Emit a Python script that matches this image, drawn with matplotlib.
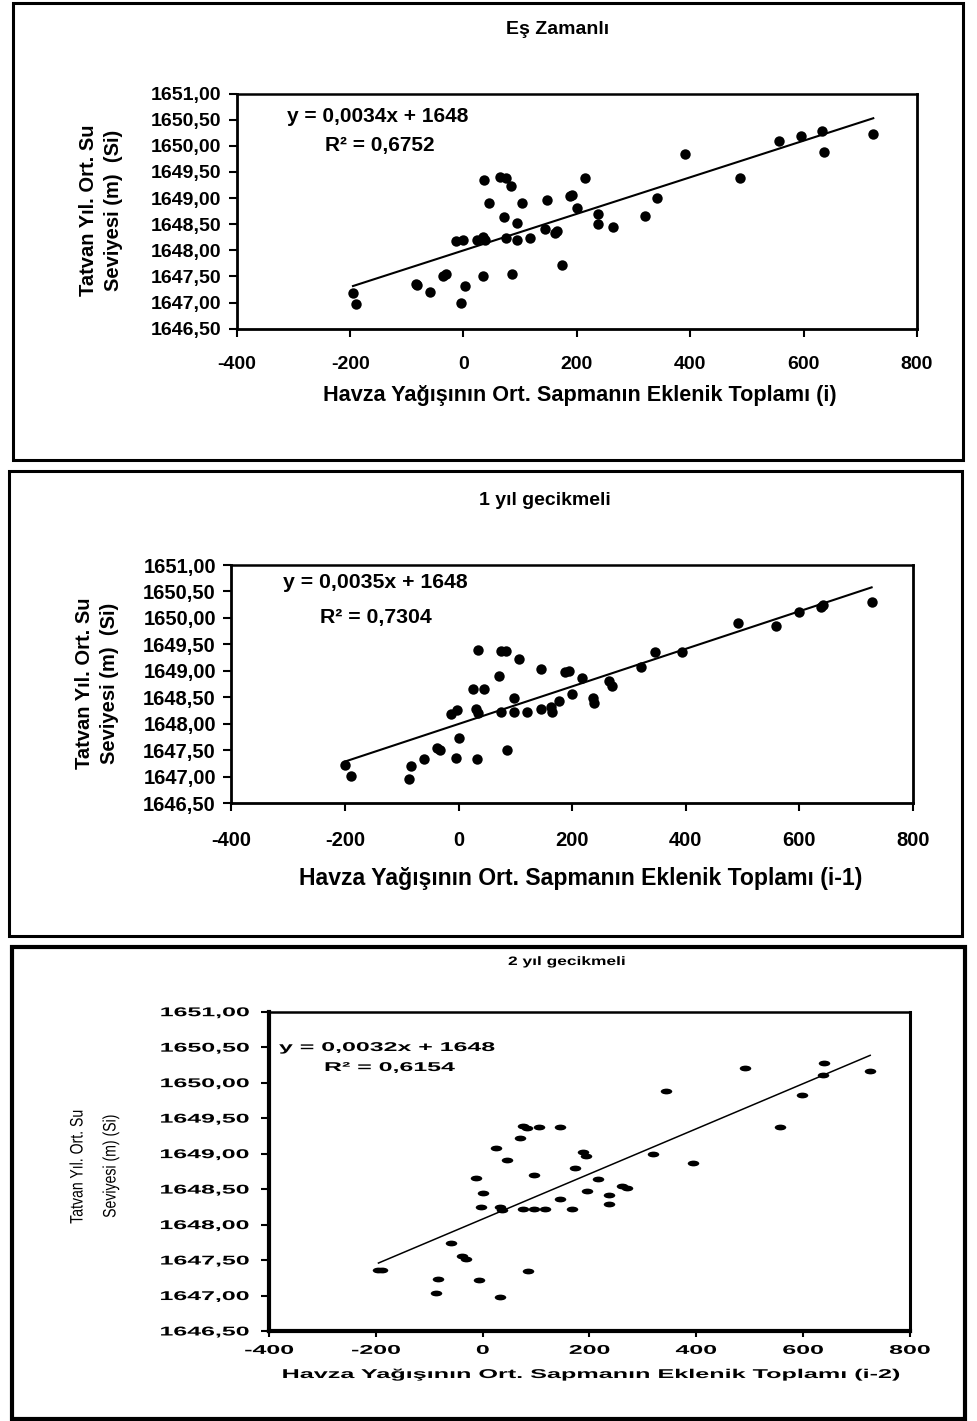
import numpy as np
import matplotlib
matplotlib.use('Agg')
import matplotlib.pyplot as plt
from matplotlib.patches import Rectangle
from matplotlib.path import Path
from matplotlib.transforms import Affine2D
from matplotlib.patheffects import AbstractPathEffect

W, H = 978, 1421
FONT = 'Liberation Sans'

# ---------------- data ----------------
titles = ['Eş Zamanlı', '1 yıl gecikmeli', '2 yıl gecikmeli']
eq_texts = ['y = 0,0034x + 1648', 'y = 0,0035x + 1648', 'y = 0,0032x + 1648']
r2_texts = ['R² = 0,6752', 'R² = 0,7304', 'R² = 0,6154']
x_labels = ['Havza Yağışının Ort. Sapmanın Eklenik Toplamı (i)',
            'Havza Yağışının Ort. Sapmanın Eklenik Toplamı (i-1)',
            'Havza Yağışının Ort. Sapmanın Eklenik Toplamı (i-2)']
y_label_line1 = 'Tatvan Yıl. Ort. Su'
y_label_line2 = 'Seviyesi (m)  (Si)'
y_label_line2_p3 = 'Seviyesi (m) (Si)'

x_ticks = [-400, -200, 0, 200, 400, 600, 800]
x_tick_labels = ['-400', '-200', '0', '200', '400', '600', '800']
y_ticks = [1646.5, 1647.0, 1647.5, 1648.0, 1648.5, 1649.0, 1649.5, 1650.0, 1650.5, 1651.0]
y_tick_labels = ['1646,50', '1647,00', '1647,50', '1648,00', '1648,50',
                 '1649,00', '1649,50', '1650,00', '1650,50', '1651,00']

x_es = [-195, -190, -84, -82, -59, -36, -31, -4, 3, -14, -1, 24, 35, 38, 36, 45, 34,
        64, 75, 84, 72, 75, 94, 103, 94, 86, 117, 147, 144, 162, 165, 173, 188, 191,
        200, 214, 238, 238, 263, 320, 342, 391, 488, 557, 595, 633, 636, 723]
y_es = [1647.18, 1646.97, 1647.36, 1647.34, 1647.21, 1647.51, 1647.54, 1647.00, 1647.32,
        1648.17, 1648.19, 1648.19, 1648.26, 1648.20, 1649.35, 1648.90, 1647.51, 1649.41,
        1649.38, 1649.23, 1648.63, 1648.24, 1648.53, 1648.90, 1648.19, 1647.54, 1648.24,
        1648.96, 1648.41, 1648.33, 1648.36, 1647.72, 1649.03, 1649.06, 1648.80, 1649.38,
        1648.69, 1648.50, 1648.45, 1648.66, 1649.01, 1649.84, 1649.38, 1650.10, 1650.19,
        1650.28, 1649.89, 1650.23]

x_lag1 = [-200, -190, -87, -84, -60, -37, -33, -14, -2, -5, 0, 25, 45, 31, 35, 32, 35,
          72, 75, 83, 75, 85, 97, 97, 107, 120, 146, 146, 163, 164, 176, 187, 195, 199,
          217, 237, 239, 264, 270, 321, 345, 394, 492, 559, 600, 638, 642, 727]
y_lag1 = [1647.22, 1647.02, 1646.95, 1647.20, 1647.33, 1647.54, 1647.51, 1648.18, 1648.26,
          1647.36, 1647.74, 1648.66, 1648.66, 1648.28, 1648.20, 1647.33, 1649.40, 1648.91,
          1649.38, 1649.38, 1648.23, 1647.51, 1648.48, 1648.23, 1649.22, 1648.23, 1649.03,
          1648.28, 1648.32, 1648.23, 1648.44, 1648.97, 1648.99, 1648.56, 1648.87, 1648.49,
          1648.40, 1648.81, 1648.72, 1649.08, 1649.36, 1649.36, 1649.90, 1649.84, 1650.12,
          1650.21, 1650.24, 1650.30]

x_lag2 = [-195, -189, -84, -87, -59, -39, -31, -7, -12, 1, -2, 25, 46, 33, 36, 33, 70,
          76, 83, 106, 76, 86, 96, 96, 117, 145, 145, 167, 173, 188, 194, 195, 217, 237,
          237, 261, 270, 319, 344, 394, 492, 558, 598, 640, 638, 726]
y_lag2 = [1647.36, 1647.36, 1647.23, 1647.03, 1647.74, 1647.55, 1647.51, 1647.22, 1648.66,
          1648.45, 1648.25, 1649.08, 1648.91, 1648.25, 1648.21, 1646.98, 1649.22, 1649.39,
          1649.36, 1649.37, 1648.22, 1647.35, 1648.70, 1648.22, 1648.22, 1649.37, 1648.36,
          1648.22, 1648.80, 1649.02, 1648.96, 1648.47, 1648.64, 1648.41, 1648.29, 1648.54,
          1648.52, 1649.00, 1649.88, 1648.87, 1650.20, 1649.37, 1649.82, 1650.27, 1650.11,
          1650.17]


# ------------- horizontal text stretch (3rd panel is a stretched picture) -------------
class Stretch(AbstractPathEffect):
    def __init__(self, sx=1.0, anchor='center'):
        super().__init__()
        self._sx = sx
        self._anchor = anchor

    def draw_path(self, renderer, gc, tpath, affine, rgbFace=None):
        v = tpath.vertices
        cx = 0.0
        if len(v):
            if self._anchor == 'left':
                cx = v[:, 0].min()
            elif self._anchor == 'right':
                cx = v[:, 0].max()
            else:
                cx = 0.5 * (v[:, 0].min() + v[:, 0].max())
        t = Affine2D().translate(-cx, 0).scale(self._sx, 1).translate(cx, 0)
        renderer.draw_path(gc, tpath, t + affine, rgbFace)


fig = plt.figure(figsize=(W / 100, H / 100), dpi=100)
fig.patch.set_facecolor('white')


def fx(px):
    return px / W


def fy(py):
    return 1 - py / H


def axes_at(x0, x1, y0, y1):
    return fig.add_axes([fx(x0), fy(y1), (x1 - x0) / W, (y1 - y0) / H])


def ftext(px, py, s, **kw):
    kw.setdefault('family', FONT)
    return fig.text(fx(px), fy(py), s, **kw)


# outer frames
for (x0, y0, x1, y1, lw) in [(13, 3, 963, 460, 2.2), (9, 471, 962, 936, 2.2),
                             (12, 947, 965, 1419, 3.0)]:
    fig.add_artist(Rectangle((fx(x0), fy(y1)), (x1 - x0) / W, (y1 - y0) / H,
                             transform=fig.transFigure, fill=False,
                             edgecolor='black', linewidth=lw))


def setup_axes(ax, xs, ys, spine_lw, tick_len_x, tick_len_y, padx, pady,
               tick_fs, weight, pe_x=None, pe_y=None, marker='o', ms=7.5, line_lw=1.5):
    ax.set_xlim(-400, 800)
    ax.set_ylim(1646.5, 1651.0)
    ax.set_xticks(x_ticks)
    ax.set_yticks(y_ticks)
    kx = dict(family=FONT, fontsize=tick_fs, fontweight=weight)
    ky = dict(family=FONT, fontsize=tick_fs, fontweight=weight)
    if pe_x:
        kx['path_effects'] = pe_x
    if pe_y:
        ky['path_effects'] = pe_y
    ax.set_xticklabels(x_tick_labels, **kx)
    ax.set_yticklabels(y_tick_labels, **ky)
    ax.tick_params(axis='x', direction='out', length=tick_len_x, width=1.5, pad=padx,
                   colors='black')
    ax.tick_params(axis='y', direction='out', length=tick_len_y, width=1.5, pad=pady,
                   colors='black')
    for s, lw in spine_lw.items():
        ax.spines[s].set_linewidth(lw)
        ax.spines[s].set_color('black')
    ax.plot(xs, ys, linestyle='none', marker=marker, ms=ms, color='black',
            markeredgewidth=0, zorder=3)
    coef = np.polyfit(xs, ys, 1)
    xl = np.array([min(xs), max(xs)])
    ax.plot(xl, np.polyval(coef, xl), color='black', lw=line_lw, zorder=2)


# ---------------- panel 1 ----------------
ax1 = axes_at(236.8, 916.9, 93.5, 328.7)
setup_axes(ax1, x_es, y_es, {'left': 2.0, 'bottom': 2.0, 'top': 1.8, 'right': 2.0},
           6, 6, 14, 5, 14, 'bold')
ftext(558, 30, titles[0], fontsize=14, fontweight='bold', ha='center', va='center')
ftext(287, 116, eq_texts[0], fontsize=15, fontweight='bold', ha='left', va='center')
ftext(325, 145, r2_texts[0], fontsize=15, fontweight='bold', ha='left', va='center')
ftext(580, 396, x_labels[0], fontsize=15.6, fontweight='bold', ha='center', va='center')
ftext(88, 210, y_label_line1, fontsize=14.5, fontweight='bold', rotation=90,
      ha='center', va='center')
ftext(114, 210, y_label_line2, fontsize=14.5, fontweight='bold', rotation=90,
      ha='center', va='center')

# ---------------- panel 2 ----------------
ax2 = axes_at(231.2, 913.1, 565, 803.3)
setup_axes(ax2, x_lag1, y_lag1, {'left': 2.0, 'bottom': 2.0, 'top': 1.8, 'right': 2.0},
           6, 6, 14, 5, 14.5, 'bold')
ftext(545, 500, titles[1], fontsize=14, fontweight='bold', ha='center', va='center')
ftext(283, 583, eq_texts[1], fontsize=15.3, fontweight='bold', ha='left', va='center')
ftext(320, 617, r2_texts[1], fontsize=15.3, fontweight='bold', ha='left', va='center')
ftext(581, 878, x_labels[1], fontsize=16.6, fontweight='bold', ha='center', va='center')
ftext(85, 683, y_label_line1, fontsize=14.5, fontweight='bold', rotation=90,
      ha='center', va='center')
ftext(110, 683, y_label_line2, fontsize=14.5, fontweight='bold', rotation=90,
      ha='center', va='center')

# ---------------- panel 3 ----------------
SX = 1.95
ellipse = Path(Affine2D().scale(1.0, 0.5).transform(Path.unit_circle().vertices),
               Path.unit_circle().codes)
ax3 = axes_at(269.0, 909.7, 1011.7, 1331.0)
setup_axes(ax3, x_lag2, y_lag2, {'left': 3.0, 'bottom': 3.0, 'top': 1.8, 'right': 2.2},
           4, 5.8, 6, 8.6, 9.2, 'bold',
           pe_x=[Stretch(SX, 'center')], pe_y=[Stretch(SX, 'right')],
           marker=ellipse, ms=8.3, line_lw=1.1)
ftext(567, 962, titles[2], fontsize=8.8, fontweight='bold', ha='center', va='center',
      path_effects=[Stretch(1.42, 'center')])
ftext(279, 1048, eq_texts[2], fontsize=9.2, fontweight='bold', ha='left', va='center',
      path_effects=[Stretch(SX, 'left')])
ftext(324, 1068, r2_texts[2], fontsize=9.2, fontweight='bold', ha='left', va='center',
      path_effects=[Stretch(SX, 'left')])
ftext(590, 1375, x_labels[2], fontsize=9.2, fontweight='bold', ha='center', va='center',
      path_effects=[Stretch(1.97, 'center')])
ftext(78, 1167, y_label_line1, fontsize=13, rotation=90, ha='center', va='center',
      path_effects=[Stretch(0.78, 'center')])
ftext(111, 1166, y_label_line2_p3, fontsize=13, rotation=90, ha='center', va='center',
      path_effects=[Stretch(0.78, 'center')])

fig.savefig('out.png', dpi=100, facecolor='white')
